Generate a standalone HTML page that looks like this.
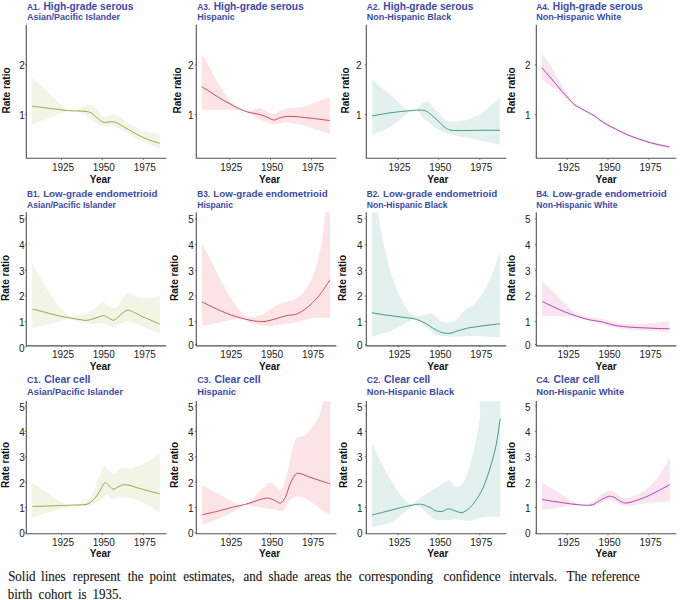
<!DOCTYPE html>
<html><head><meta charset="utf-8"><style>
html,body{margin:0;padding:0;background:#fff;}
body{width:680px;height:600px;overflow:hidden;position:relative;}
svg{position:absolute;left:0;top:0;}
.cap{position:absolute;left:8.7px;font-family:"Liberation Serif",serif;font-size:14px;line-height:16px;color:#111;white-space:nowrap;transform-origin:0 0;}
</style></head><body>
<svg width="680" height="600" viewBox="0 0 680 600">

<g>
<clipPath id="c00"><rect x="26.3" y="25.00" width="141" height="133.60"/></clipPath>
<path d="M32.00 77.75 C37.88 83.12 60.17 104.54 67.25 110.00 C74.33 115.46 72.12 110.88 74.50 110.50 C76.88 110.12 78.96 108.71 81.50 107.75 C84.04 106.79 87.50 104.88 89.75 104.75 C92.00 104.62 93.38 105.71 95.00 107.00 C96.62 108.29 97.79 110.79 99.50 112.50 C101.21 114.21 103.29 116.96 105.25 117.25 C107.21 117.54 109.79 114.75 111.25 114.25 C112.71 113.75 112.79 113.88 114.00 114.25 C115.21 114.62 116.50 115.29 118.50 116.50 C120.50 117.71 123.29 119.79 126.00 121.50 C128.71 123.21 131.83 125.12 134.75 126.75 C137.67 128.38 139.33 130.04 143.50 131.25 C147.67 132.46 157.04 133.54 159.75 134.00 L159.75 148.75 C158.04 148.04 152.96 145.96 149.50 144.50 C146.04 143.04 142.46 141.75 139.00 140.00 C135.54 138.25 131.92 135.83 128.75 134.00 C125.58 132.17 122.67 130.33 120.00 129.00 C117.33 127.67 115.46 126.38 112.75 126.00 C110.04 125.62 106.71 127.33 103.75 126.75 C100.79 126.17 97.54 124.04 95.00 122.50 C92.46 120.96 91.33 119.29 88.50 117.50 C85.67 115.71 81.54 112.79 78.00 111.75 C74.46 110.71 74.92 109.04 67.25 111.25 C59.58 113.46 37.88 122.71 32.00 125.00 Z" fill="#f2f4e6" stroke="none" clip-path="url(#c00)"/>
<path d="M32.00 106.25 C34.75 106.58 42.62 107.54 48.50 108.25 C54.38 108.96 62.21 110.04 67.25 110.50 C72.29 110.96 75.33 110.79 78.75 111.00 C82.17 111.21 85.54 111.33 87.75 111.75 C89.96 112.17 90.42 112.46 92.00 113.50 C93.58 114.54 95.42 116.54 97.25 118.00 C99.08 119.46 101.17 121.58 103.00 122.25 C104.83 122.92 106.42 122.04 108.25 122.00 C110.08 121.96 112.29 121.71 114.00 122.00 C115.71 122.29 116.04 122.46 118.50 123.75 C120.96 125.04 125.33 127.79 128.75 129.75 C132.17 131.71 135.54 133.79 139.00 135.50 C142.46 137.21 146.04 138.71 149.50 140.00 C152.96 141.29 158.04 142.71 159.75 143.25" fill="none" stroke="#a0a74b" stroke-width="1.0" stroke-linejoin="round"/>
<path d="M26.30 24.7 V158.3 H166.30" fill="none" stroke="#505050" stroke-width="1.1"/>
<path d="M24.80 64.90 H26.3" stroke="#505050" stroke-width="0.8"/>
<text x="24.80" y="69.30" text-anchor="end" font-family="Liberation Sans" font-size="10" fill="#222">2</text>
<path d="M24.80 114.70 H26.3" stroke="#505050" stroke-width="0.8"/>
<text x="24.80" y="119.10" text-anchor="end" font-family="Liberation Sans" font-size="10" fill="#222">1</text>
<path d="M61.50 158.3 V159.80" stroke="#505050" stroke-width="0.8"/>
<text x="63.00" y="171.40" text-anchor="middle" font-family="Liberation Sans" font-size="10" fill="#222">1925</text>
<path d="M102.30 158.3 V159.80" stroke="#505050" stroke-width="0.8"/>
<text x="103.80" y="171.40" text-anchor="middle" font-family="Liberation Sans" font-size="10" fill="#222">1950</text>
<path d="M143.30 158.3 V159.80" stroke="#505050" stroke-width="0.8"/>
<text x="144.80" y="171.40" text-anchor="middle" font-family="Liberation Sans" font-size="10" fill="#222">1975</text>
<text x="100.40" y="182.90" text-anchor="middle" font-family="Liberation Sans" font-size="10" font-weight="bold" fill="#111">Year</text>
<text transform="translate(9.80 90.50) rotate(-90)" text-anchor="middle" font-family="Liberation Sans" font-size="10" font-weight="bold" fill="#111">Rate ratio</text>
<text transform="translate(27.00 9.75) scale(0.9 1)" font-family="Liberation Sans" font-weight="bold" font-size="9.36" fill="#3c4aa8">A1.</text>
<text x="43.51" y="9.75" font-family="Liberation Sans" font-weight="bold" font-size="10.2" fill="#3c4aa8">High-grade serous</text>
<text x="27.00" y="20.05" font-family="Liberation Sans" font-weight="bold" font-size="9.0" fill="#3c4aa8">Asian/Pacific Islander</text>
</g>
<g>
<clipPath id="c01"><rect x="196.3" y="25.00" width="141" height="133.60"/></clipPath>
<path d="M201.75 53.50 C203.12 56.00 207.38 63.75 210.00 68.50 C212.62 73.25 215.00 77.75 217.50 82.00 C220.00 86.25 222.50 90.50 225.00 94.00 C227.50 97.50 230.00 100.54 232.50 103.00 C235.00 105.46 237.75 107.50 240.00 108.75 C242.25 110.00 244.00 110.29 246.00 110.50 C248.00 110.71 249.71 110.38 252.00 110.00 C254.29 109.62 257.50 108.12 259.75 108.25 C262.00 108.38 263.33 109.79 265.50 110.75 C267.67 111.71 270.58 113.83 272.75 114.00 C274.92 114.17 276.54 112.62 278.50 111.75 C280.46 110.88 281.96 109.42 284.50 108.75 C287.04 108.08 290.42 108.12 293.75 107.75 C297.08 107.38 301.17 107.29 304.50 106.50 C307.83 105.71 310.62 104.17 313.75 103.00 C316.88 101.83 320.58 100.50 323.25 99.50 C325.92 98.50 328.67 97.42 329.75 97.00 L329.75 134.00 C328.67 133.62 325.92 132.62 323.25 131.75 C320.58 130.88 316.88 129.83 313.75 128.75 C310.62 127.67 307.83 126.12 304.50 125.25 C301.17 124.38 297.08 124.00 293.75 123.50 C290.42 123.00 287.83 122.08 284.50 122.25 C281.17 122.42 276.92 124.58 273.75 124.50 C270.58 124.42 268.12 122.71 265.50 121.75 C262.88 120.79 260.25 119.88 258.00 118.75 C255.75 117.62 254.00 116.25 252.00 115.00 C250.00 113.75 248.25 112.12 246.00 111.25 C243.75 110.38 245.88 110.00 238.50 109.75 C231.12 109.50 207.88 109.75 201.75 109.75 Z" fill="#fce3e5" stroke="none" clip-path="url(#c01)"/>
<path d="M201.75 86.75 C203.12 87.58 207.38 90.08 210.00 91.75 C212.62 93.42 215.00 95.17 217.50 96.75 C220.00 98.33 222.50 99.83 225.00 101.25 C227.50 102.67 230.00 103.96 232.50 105.25 C235.00 106.54 237.50 107.88 240.00 109.00 C242.50 110.12 245.00 111.25 247.50 112.00 C250.00 112.75 252.58 112.96 255.00 113.50 C257.42 114.04 260.04 114.67 262.00 115.25 C263.96 115.83 264.79 116.21 266.75 117.00 C268.71 117.79 271.79 119.79 273.75 120.00 C275.71 120.21 276.54 118.83 278.50 118.25 C280.46 117.67 282.75 116.79 285.50 116.50 C288.25 116.21 291.83 116.33 295.00 116.50 C298.17 116.67 301.38 117.17 304.50 117.50 C307.62 117.83 310.62 118.12 313.75 118.50 C316.88 118.88 320.58 119.42 323.25 119.75 C325.92 120.08 328.67 120.38 329.75 120.50" fill="none" stroke="#c74e60" stroke-width="1.0" stroke-linejoin="round"/>
<path d="M196.30 24.7 V158.3 H336.30" fill="none" stroke="#505050" stroke-width="1.1"/>
<path d="M194.80 64.90 H196.3" stroke="#505050" stroke-width="0.8"/>
<text x="193.60" y="69.30" text-anchor="end" font-family="Liberation Sans" font-size="10" fill="#222">2</text>
<path d="M194.80 114.70 H196.3" stroke="#505050" stroke-width="0.8"/>
<text x="193.60" y="119.10" text-anchor="end" font-family="Liberation Sans" font-size="10" fill="#222">1</text>
<path d="M229.75 158.3 V159.80" stroke="#505050" stroke-width="0.8"/>
<text x="231.25" y="171.40" text-anchor="middle" font-family="Liberation Sans" font-size="10" fill="#222">1925</text>
<path d="M270.55 158.3 V159.80" stroke="#505050" stroke-width="0.8"/>
<text x="272.05" y="171.40" text-anchor="middle" font-family="Liberation Sans" font-size="10" fill="#222">1950</text>
<path d="M311.55 158.3 V159.80" stroke="#505050" stroke-width="0.8"/>
<text x="313.05" y="171.40" text-anchor="middle" font-family="Liberation Sans" font-size="10" fill="#222">1975</text>
<text x="269.65" y="182.90" text-anchor="middle" font-family="Liberation Sans" font-size="10" font-weight="bold" fill="#111">Year</text>
<text transform="translate(181.30 90.50) rotate(-90)" text-anchor="middle" font-family="Liberation Sans" font-size="10" font-weight="bold" fill="#111">Rate ratio</text>
<text transform="translate(197.20 9.75) scale(0.9 1)" font-family="Liberation Sans" font-weight="bold" font-size="9.36" fill="#3c4aa8">A3.</text>
<text x="213.71" y="9.75" font-family="Liberation Sans" font-weight="bold" font-size="10.2" fill="#3c4aa8">High-grade serous</text>
<text x="197.20" y="20.05" font-family="Liberation Sans" font-weight="bold" font-size="9.0" fill="#3c4aa8">Hispanic</text>
</g>
<g>
<clipPath id="c02"><rect x="366.3" y="25.00" width="141" height="133.60"/></clipPath>
<path d="M372.25 79.50 C374.00 81.04 379.04 85.62 382.75 88.75 C386.46 91.88 391.00 95.08 394.50 98.25 C398.00 101.42 401.21 105.79 403.75 107.75 C406.29 109.71 407.58 109.83 409.75 110.00 C411.92 110.17 414.00 110.21 416.75 108.75 C419.50 107.29 423.50 101.46 426.25 101.25 C429.00 101.04 431.12 105.42 433.25 107.50 C435.38 109.58 437.04 111.67 439.00 113.75 C440.96 115.83 443.42 118.75 445.00 120.00 C446.58 121.25 445.96 121.04 448.50 121.25 C451.04 121.46 456.71 121.67 460.25 121.25 C463.79 120.83 466.79 119.75 469.75 118.75 C472.71 117.75 475.25 116.79 478.00 115.25 C480.75 113.71 483.71 111.46 486.25 109.50 C488.79 107.54 491.00 105.46 493.25 103.50 C495.50 101.54 498.67 98.71 499.75 97.75 L499.75 144.75 C498.67 144.46 495.92 143.58 493.25 143.00 C490.58 142.42 487.29 141.96 483.75 141.25 C480.21 140.54 475.92 139.54 472.00 138.75 C468.08 137.96 464.17 137.29 460.25 136.50 C456.33 135.71 451.42 134.71 448.50 134.00 C445.58 133.29 444.71 133.12 442.75 132.25 C440.79 131.38 438.71 130.12 436.75 128.75 C434.79 127.38 433.04 125.67 431.00 124.00 C428.96 122.33 426.88 121.00 424.50 118.75 C422.12 116.50 419.21 111.58 416.75 110.50 C414.29 109.42 411.92 111.25 409.75 112.25 C407.58 113.25 406.29 114.54 403.75 116.50 C401.21 118.46 398.00 121.67 394.50 124.00 C391.00 126.33 386.46 128.67 382.75 130.50 C379.04 132.33 374.00 134.25 372.25 135.00 Z" fill="#e2f0ee" stroke="none" clip-path="url(#c02)"/>
<path d="M372.25 116.00 C374.00 115.67 379.04 114.62 382.75 114.00 C386.46 113.38 390.58 112.75 394.50 112.25 C398.42 111.75 402.92 111.33 406.25 111.00 C409.58 110.67 411.75 110.38 414.50 110.25 C417.25 110.12 420.62 110.00 422.75 110.25 C424.88 110.50 425.50 110.71 427.25 111.75 C429.00 112.79 431.29 114.83 433.25 116.50 C435.21 118.17 437.04 119.92 439.00 121.75 C440.96 123.58 443.42 126.21 445.00 127.50 C446.58 128.79 446.92 129.00 448.50 129.50 C450.08 130.00 451.54 130.33 454.50 130.50 C457.46 130.67 462.33 130.54 466.25 130.50 C470.17 130.46 474.08 130.29 478.00 130.25 C481.92 130.21 486.12 130.25 489.75 130.25 C493.38 130.25 498.08 130.25 499.75 130.25" fill="none" stroke="#45998f" stroke-width="1.0" stroke-linejoin="round"/>
<path d="M366.30 24.7 V158.3 H506.30" fill="none" stroke="#505050" stroke-width="1.1"/>
<path d="M364.80 64.90 H366.3" stroke="#505050" stroke-width="0.8"/>
<text x="361.50" y="69.30" text-anchor="end" font-family="Liberation Sans" font-size="10" fill="#222">2</text>
<path d="M364.80 114.70 H366.3" stroke="#505050" stroke-width="0.8"/>
<text x="361.50" y="119.10" text-anchor="end" font-family="Liberation Sans" font-size="10" fill="#222">1</text>
<path d="M398.00 158.3 V159.80" stroke="#505050" stroke-width="0.8"/>
<text x="399.50" y="171.40" text-anchor="middle" font-family="Liberation Sans" font-size="10" fill="#222">1925</text>
<path d="M438.80 158.3 V159.80" stroke="#505050" stroke-width="0.8"/>
<text x="440.30" y="171.40" text-anchor="middle" font-family="Liberation Sans" font-size="10" fill="#222">1950</text>
<path d="M479.80 158.3 V159.80" stroke="#505050" stroke-width="0.8"/>
<text x="481.30" y="171.40" text-anchor="middle" font-family="Liberation Sans" font-size="10" fill="#222">1975</text>
<text x="437.90" y="182.90" text-anchor="middle" font-family="Liberation Sans" font-size="10" font-weight="bold" fill="#111">Year</text>
<text transform="translate(348.60 90.50) rotate(-90)" text-anchor="middle" font-family="Liberation Sans" font-size="10" font-weight="bold" fill="#111">Rate ratio</text>
<text transform="translate(366.80 9.75) scale(0.9 1)" font-family="Liberation Sans" font-weight="bold" font-size="9.36" fill="#3c4aa8">A2.</text>
<text x="383.31" y="9.75" font-family="Liberation Sans" font-weight="bold" font-size="10.2" fill="#3c4aa8">High-grade serous</text>
<text x="366.80" y="20.05" font-family="Liberation Sans" font-weight="bold" font-size="9.0" fill="#3c4aa8">Non-Hispanic Black</text>
</g>
<g>
<clipPath id="c03"><rect x="536.3" y="25.00" width="141" height="133.60"/></clipPath>
<path d="M542.00 53.75 C542.62 54.62 544.25 56.92 545.75 59.00 C547.25 61.08 549.25 63.46 551.00 66.25 C552.75 69.04 554.46 72.62 556.25 75.75 C558.04 78.88 559.75 81.79 561.75 85.00 C563.75 88.21 566.04 91.88 568.25 95.00 C570.46 98.12 572.75 101.64 575.00 103.75 C577.25 105.86 579.54 106.39 581.75 107.67 C583.96 108.94 586.04 110.18 588.25 111.42 C590.46 112.65 593.04 113.83 595.00 115.08 C596.96 116.33 598.00 117.54 600.00 118.92 C602.00 120.29 604.46 121.89 607.00 123.33 C609.54 124.78 612.50 126.18 615.25 127.58 C618.00 128.99 620.75 130.47 623.50 131.75 C626.25 133.03 628.79 134.11 631.75 135.25 C634.71 136.39 638.12 137.54 641.25 138.58 C644.38 139.62 647.38 140.62 650.50 141.50 C653.62 142.38 656.83 143.12 660.00 143.83 C663.17 144.54 667.92 145.43 669.50 145.75 L669.50 148.25 C667.92 147.93 663.17 147.04 660.00 146.33 C656.83 145.62 653.62 144.88 650.50 144.00 C647.38 143.12 644.38 142.12 641.25 141.08 C638.12 140.04 634.71 138.89 631.75 137.75 C628.79 136.61 626.25 135.53 623.50 134.25 C620.75 132.97 618.00 131.49 615.25 130.08 C612.50 128.68 609.54 127.28 607.00 125.83 C604.46 124.39 602.00 122.82 600.00 121.42 C598.00 120.01 596.96 118.72 595.00 117.42 C593.04 116.11 590.46 114.85 588.25 113.58 C586.04 112.32 583.96 111.06 581.75 109.83 C579.54 108.61 577.25 107.85 575.00 106.25 C572.75 104.65 570.46 102.12 568.25 100.25 C566.04 98.38 563.75 96.75 561.75 95.00 C559.75 93.25 558.04 91.21 556.25 89.75 C554.46 88.29 552.75 87.50 551.00 86.25 C549.25 85.00 547.25 83.33 545.75 82.25 C544.25 81.17 542.62 80.17 542.00 79.75 Z" fill="#fae4f2" stroke="none" clip-path="url(#c03)"/>
<path d="M542.00 67.75 C543.04 68.96 546.08 72.46 548.25 75.00 C550.42 77.54 552.75 80.33 555.00 83.00 C557.25 85.67 559.54 88.46 561.75 91.00 C563.96 93.54 566.04 95.92 568.25 98.25 C570.46 100.58 572.75 103.25 575.00 105.00 C577.25 106.75 579.54 107.50 581.75 108.75 C583.96 110.00 586.04 111.25 588.25 112.50 C590.46 113.75 593.04 114.97 595.00 116.25 C596.96 117.53 598.00 118.78 600.00 120.17 C602.00 121.56 604.46 123.14 607.00 124.58 C609.54 126.03 612.50 127.43 615.25 128.83 C618.00 130.24 620.75 131.72 623.50 133.00 C626.25 134.28 628.79 135.36 631.75 136.50 C634.71 137.64 638.12 138.79 641.25 139.83 C644.38 140.87 647.38 141.88 650.50 142.75 C653.62 143.62 656.83 144.37 660.00 145.08 C663.17 145.79 667.92 146.68 669.50 147.00" fill="none" stroke="#b248ae" stroke-width="1.0" stroke-linejoin="round"/>
<path d="M536.30 24.7 V158.3 H676.30" fill="none" stroke="#505050" stroke-width="1.1"/>
<path d="M534.80 64.90 H536.3" stroke="#505050" stroke-width="0.8"/>
<text x="530.50" y="69.30" text-anchor="end" font-family="Liberation Sans" font-size="10" fill="#222">2</text>
<path d="M534.80 114.70 H536.3" stroke="#505050" stroke-width="0.8"/>
<text x="530.50" y="119.10" text-anchor="end" font-family="Liberation Sans" font-size="10" fill="#222">1</text>
<path d="M567.20 158.3 V159.80" stroke="#505050" stroke-width="0.8"/>
<text x="568.70" y="171.40" text-anchor="middle" font-family="Liberation Sans" font-size="10" fill="#222">1925</text>
<path d="M608.00 158.3 V159.80" stroke="#505050" stroke-width="0.8"/>
<text x="609.50" y="171.40" text-anchor="middle" font-family="Liberation Sans" font-size="10" fill="#222">1950</text>
<path d="M649.00 158.3 V159.80" stroke="#505050" stroke-width="0.8"/>
<text x="650.50" y="171.40" text-anchor="middle" font-family="Liberation Sans" font-size="10" fill="#222">1975</text>
<text x="606.15" y="182.90" text-anchor="middle" font-family="Liberation Sans" font-size="10" font-weight="bold" fill="#111">Year</text>
<text transform="translate(514.80 90.50) rotate(-90)" text-anchor="middle" font-family="Liberation Sans" font-size="10" font-weight="bold" fill="#111">Rate ratio</text>
<text transform="translate(536.30 9.75) scale(0.9 1)" font-family="Liberation Sans" font-weight="bold" font-size="9.36" fill="#3c4aa8">A4.</text>
<text x="552.81" y="9.75" font-family="Liberation Sans" font-weight="bold" font-size="10.2" fill="#3c4aa8">High-grade serous</text>
<text x="536.30" y="20.05" font-family="Liberation Sans" font-weight="bold" font-size="9.0" fill="#3c4aa8">Non-Hispanic White</text>
</g>
<g>
<clipPath id="c10"><rect x="26.3" y="212.60" width="141" height="133.60"/></clipPath>
<path d="M32.25 262.25 C33.25 264.17 36.12 269.83 38.25 273.75 C40.38 277.67 42.75 282.00 45.00 285.75 C47.25 289.50 49.54 292.92 51.75 296.25 C53.96 299.58 56.04 303.08 58.25 305.75 C60.46 308.42 62.75 310.50 65.00 312.25 C67.25 314.00 69.54 315.79 71.75 316.25 C73.96 316.71 76.04 315.42 78.25 315.00 C80.46 314.58 82.75 314.50 85.00 313.75 C87.25 313.00 89.75 311.62 91.75 310.50 C93.75 309.38 95.12 308.38 97.00 307.00 C98.88 305.62 101.12 302.38 103.00 302.25 C104.88 302.12 106.46 305.25 108.25 306.25 C110.04 307.25 111.96 308.58 113.75 308.25 C115.54 307.92 116.79 306.79 119.00 304.25 C121.21 301.71 124.79 294.54 127.00 293.00 C129.21 291.46 130.04 294.12 132.25 295.00 C134.46 295.88 137.12 297.79 140.25 298.25 C143.38 298.71 147.75 298.17 151.00 297.75 C154.25 297.33 158.29 296.08 159.75 295.75 L159.75 333.75 C158.29 333.08 153.79 331.00 151.00 329.75 C148.21 328.50 145.67 327.38 143.00 326.25 C140.33 325.12 137.67 323.75 135.00 323.00 C132.33 322.25 129.67 321.54 127.00 321.75 C124.33 321.96 121.21 323.38 119.00 324.25 C116.79 325.12 115.54 326.88 113.75 327.00 C111.96 327.12 110.04 325.67 108.25 325.00 C106.46 324.33 105.08 323.17 103.00 323.00 C100.92 322.83 98.29 324.00 95.75 324.00 C93.21 324.00 90.21 323.38 87.75 323.00 C85.29 322.62 83.00 322.21 81.00 321.75 C79.00 321.29 77.75 320.71 75.75 320.25 C73.75 319.79 71.92 318.75 69.00 319.00 C66.08 319.25 62.25 320.75 58.25 321.75 C54.25 322.75 49.33 323.92 45.00 325.00 C40.67 326.08 34.38 327.71 32.25 328.25 Z" fill="#f2f4e6" stroke="none" clip-path="url(#c10)"/>
<path d="M32.25 309.00 C34.38 309.54 40.67 311.12 45.00 312.25 C49.33 313.38 53.79 314.75 58.25 315.75 C62.71 316.75 67.75 317.54 71.75 318.25 C75.75 318.96 79.58 319.67 82.25 320.00 C84.92 320.33 85.62 320.54 87.75 320.25 C89.88 319.96 92.46 319.00 95.00 318.25 C97.54 317.50 100.79 315.83 103.00 315.75 C105.21 315.67 106.46 317.00 108.25 317.75 C110.04 318.50 111.96 320.50 113.75 320.25 C115.54 320.00 116.79 317.92 119.00 316.25 C121.21 314.58 124.54 310.92 127.00 310.25 C129.46 309.58 131.29 311.25 133.75 312.25 C136.21 313.25 138.88 314.92 141.75 316.25 C144.62 317.58 148.00 318.92 151.00 320.25 C154.00 321.58 158.29 323.58 159.75 324.25" fill="none" stroke="#a0a74b" stroke-width="1.0" stroke-linejoin="round"/>
<path d="M26.30 212.3 V345.9 H166.30" fill="none" stroke="#505050" stroke-width="1.1"/>
<path d="M24.80 218.90 H26.3" stroke="#505050" stroke-width="0.8"/>
<text x="24.60" y="223.30" text-anchor="end" font-family="Liberation Sans" font-size="10" fill="#222">5</text>
<path d="M24.80 244.70 H26.3" stroke="#505050" stroke-width="0.8"/>
<text x="24.60" y="249.10" text-anchor="end" font-family="Liberation Sans" font-size="10" fill="#222">4</text>
<path d="M24.80 270.40 H26.3" stroke="#505050" stroke-width="0.8"/>
<text x="24.60" y="274.80" text-anchor="end" font-family="Liberation Sans" font-size="10" fill="#222">3</text>
<path d="M24.80 296.00 H26.3" stroke="#505050" stroke-width="0.8"/>
<text x="24.60" y="300.40" text-anchor="end" font-family="Liberation Sans" font-size="10" fill="#222">2</text>
<path d="M24.80 321.70 H26.3" stroke="#505050" stroke-width="0.8"/>
<text x="24.60" y="326.10" text-anchor="end" font-family="Liberation Sans" font-size="10" fill="#222">1</text>
<path d="M24.80 347.10 H26.3" stroke="#505050" stroke-width="0.8"/>
<text x="24.60" y="351.50" text-anchor="end" font-family="Liberation Sans" font-size="10" fill="#222">0</text>
<path d="M61.50 345.9 V347.40" stroke="#505050" stroke-width="0.8"/>
<text x="63.00" y="358.00" text-anchor="middle" font-family="Liberation Sans" font-size="10" fill="#222">1925</text>
<path d="M102.30 345.9 V347.40" stroke="#505050" stroke-width="0.8"/>
<text x="103.80" y="358.00" text-anchor="middle" font-family="Liberation Sans" font-size="10" fill="#222">1950</text>
<path d="M143.30 345.9 V347.40" stroke="#505050" stroke-width="0.8"/>
<text x="144.80" y="358.00" text-anchor="middle" font-family="Liberation Sans" font-size="10" fill="#222">1975</text>
<text x="100.40" y="369.60" text-anchor="middle" font-family="Liberation Sans" font-size="10" font-weight="bold" fill="#111">Year</text>
<text transform="translate(9.00 277.90) rotate(-90)" text-anchor="middle" font-family="Liberation Sans" font-size="10" font-weight="bold" fill="#111">Rate ratio</text>
<text transform="translate(27.00 197.45) scale(0.9 1)" font-family="Liberation Sans" font-weight="bold" font-size="9.15" fill="#3c4aa8">B1.</text>
<text x="43.14" y="197.45" font-family="Liberation Sans" font-weight="bold" font-size="9.8" fill="#3c4aa8">Low-grade endometrioid</text>
<text x="27.00" y="207.55" font-family="Liberation Sans" font-weight="bold" font-size="8.6" fill="#3c4aa8">Asian/Pacific Islander</text>
</g>
<g>
<clipPath id="c11"><rect x="196.3" y="212.60" width="141" height="133.60"/></clipPath>
<path d="M202.00 244.00 C203.33 246.50 207.12 253.42 210.00 259.00 C212.88 264.58 215.62 270.79 219.25 277.50 C222.88 284.21 228.29 293.71 231.75 299.25 C235.21 304.79 237.96 308.21 240.00 310.75 C242.04 313.29 242.33 313.38 244.00 314.50 C245.67 315.62 247.62 317.29 250.00 317.50 C252.38 317.71 255.75 316.46 258.25 315.75 C260.75 315.04 262.42 314.75 265.00 313.25 C267.58 311.75 270.12 308.71 273.75 306.75 C277.38 304.79 283.17 302.75 286.75 301.50 C290.33 300.25 292.38 300.88 295.25 299.25 C298.12 297.62 301.08 295.54 304.00 291.75 C306.92 287.96 310.21 282.67 312.75 276.50 C315.29 270.33 317.46 262.33 319.25 254.75 C321.04 247.17 322.42 238.96 323.50 231.00 C324.58 223.04 324.67 211.00 325.75 207.00 C326.83 203.00 329.29 207.00 330.00 207.00 L330.00 317.75 C328.21 317.75 322.88 317.58 319.25 317.75 C315.62 317.92 311.88 318.04 308.25 318.75 C304.62 319.46 301.08 321.17 297.50 322.00 C293.92 322.83 290.38 323.21 286.75 323.75 C283.12 324.29 278.83 324.88 275.75 325.25 C272.67 325.62 271.17 326.04 268.25 326.00 C265.33 325.96 261.29 325.58 258.25 325.00 C255.21 324.42 252.75 323.62 250.00 322.50 C247.25 321.38 244.79 318.71 241.75 318.25 C238.71 317.79 235.08 319.12 231.75 319.75 C228.42 320.38 225.08 321.25 221.75 322.00 C218.42 322.75 215.04 323.62 211.75 324.25 C208.46 324.88 203.62 325.50 202.00 325.75 Z" fill="#fce3e5" stroke="none" clip-path="url(#c11)"/>
<path d="M202.00 301.75 C203.62 302.58 208.46 305.17 211.75 306.75 C215.04 308.33 218.42 309.83 221.75 311.25 C225.08 312.67 228.42 314.08 231.75 315.25 C235.08 316.42 238.71 317.42 241.75 318.25 C244.79 319.08 247.50 319.75 250.00 320.25 C252.50 320.75 254.25 321.04 256.75 321.25 C259.25 321.46 261.83 321.92 265.00 321.50 C268.17 321.08 272.12 319.75 275.75 318.75 C279.38 317.75 283.50 316.21 286.75 315.50 C290.00 314.79 292.38 315.42 295.25 314.50 C298.12 313.58 301.08 312.00 304.00 310.00 C306.92 308.00 309.88 305.38 312.75 302.50 C315.62 299.62 318.38 296.54 321.25 292.75 C324.12 288.96 328.54 281.92 330.00 279.75" fill="none" stroke="#c74e60" stroke-width="1.0" stroke-linejoin="round"/>
<path d="M196.30 212.3 V345.9 H336.30" fill="none" stroke="#505050" stroke-width="1.1"/>
<path d="M194.80 218.90 H196.3" stroke="#505050" stroke-width="0.8"/>
<text x="193.75" y="223.30" text-anchor="end" font-family="Liberation Sans" font-size="10" fill="#222">5</text>
<path d="M194.80 244.70 H196.3" stroke="#505050" stroke-width="0.8"/>
<text x="193.75" y="249.10" text-anchor="end" font-family="Liberation Sans" font-size="10" fill="#222">4</text>
<path d="M194.80 270.40 H196.3" stroke="#505050" stroke-width="0.8"/>
<text x="193.75" y="274.80" text-anchor="end" font-family="Liberation Sans" font-size="10" fill="#222">3</text>
<path d="M194.80 296.00 H196.3" stroke="#505050" stroke-width="0.8"/>
<text x="193.75" y="300.40" text-anchor="end" font-family="Liberation Sans" font-size="10" fill="#222">2</text>
<path d="M194.80 321.70 H196.3" stroke="#505050" stroke-width="0.8"/>
<text x="193.75" y="326.10" text-anchor="end" font-family="Liberation Sans" font-size="10" fill="#222">1</text>
<path d="M194.80 344.50 H196.3" stroke="#505050" stroke-width="0.8"/>
<text x="193.75" y="348.90" text-anchor="end" font-family="Liberation Sans" font-size="10" fill="#222">0</text>
<path d="M229.75 345.9 V347.40" stroke="#505050" stroke-width="0.8"/>
<text x="231.25" y="358.00" text-anchor="middle" font-family="Liberation Sans" font-size="10" fill="#222">1925</text>
<path d="M270.55 345.9 V347.40" stroke="#505050" stroke-width="0.8"/>
<text x="272.05" y="358.00" text-anchor="middle" font-family="Liberation Sans" font-size="10" fill="#222">1950</text>
<path d="M311.55 345.9 V347.40" stroke="#505050" stroke-width="0.8"/>
<text x="313.05" y="358.00" text-anchor="middle" font-family="Liberation Sans" font-size="10" fill="#222">1975</text>
<text x="269.65" y="369.60" text-anchor="middle" font-family="Liberation Sans" font-size="10" font-weight="bold" fill="#111">Year</text>
<text transform="translate(178.40 277.90) rotate(-90)" text-anchor="middle" font-family="Liberation Sans" font-size="10" font-weight="bold" fill="#111">Rate ratio</text>
<text transform="translate(197.20 197.45) scale(0.9 1)" font-family="Liberation Sans" font-weight="bold" font-size="9.15" fill="#3c4aa8">B3.</text>
<text x="213.34" y="197.45" font-family="Liberation Sans" font-weight="bold" font-size="9.8" fill="#3c4aa8">Low-grade endometrioid</text>
<text x="197.20" y="207.55" font-family="Liberation Sans" font-weight="bold" font-size="8.6" fill="#3c4aa8">Hispanic</text>
</g>
<g>
<clipPath id="c12"><rect x="366.3" y="212.60" width="141" height="133.60"/></clipPath>
<path d="M372.00 207.00 C372.79 207.00 375.21 202.67 376.75 207.00 C378.29 211.33 379.71 225.17 381.25 233.00 C382.79 240.83 384.42 247.38 386.00 254.00 C387.58 260.62 388.79 266.54 390.75 272.75 C392.71 278.96 395.42 285.83 397.75 291.25 C400.08 296.67 402.42 301.33 404.75 305.25 C407.08 309.17 409.04 313.00 411.75 314.75 C414.46 316.50 417.96 315.92 421.00 315.75 C424.04 315.58 427.67 313.75 430.00 313.75 C432.33 313.75 433.04 314.42 435.00 315.75 C436.96 317.08 439.25 320.62 441.75 321.75 C444.25 322.88 447.25 323.08 450.00 322.50 C452.75 321.92 455.75 320.33 458.25 318.25 C460.75 316.17 462.50 312.21 465.00 310.00 C467.50 307.79 470.46 307.50 473.25 305.00 C476.04 302.50 479.25 298.62 481.75 295.00 C484.25 291.38 486.04 287.96 488.25 283.25 C490.46 278.54 493.04 272.00 495.00 266.75 C496.96 261.50 499.17 254.25 500.00 251.75 L500.00 336.75 C498.62 336.75 495.92 336.92 491.75 336.75 C487.58 336.58 480.58 335.75 475.00 335.75 C469.42 335.75 463.79 336.75 458.25 336.75 C452.71 336.75 445.62 336.12 441.75 335.75 C437.88 335.38 437.67 335.96 435.00 334.50 C432.33 333.04 428.88 329.46 425.75 327.00 C422.62 324.54 419.38 320.46 416.25 319.75 C413.12 319.04 410.50 321.25 407.00 322.75 C403.50 324.25 399.12 327.00 395.25 328.75 C391.38 330.50 387.62 331.92 383.75 333.25 C379.88 334.58 373.96 336.17 372.00 336.75 Z" fill="#e2f0ee" stroke="none" clip-path="url(#c12)"/>
<path d="M372.00 312.75 C373.96 313.08 379.88 314.17 383.75 314.75 C387.62 315.33 391.38 315.75 395.25 316.25 C399.12 316.75 403.50 317.25 407.00 317.75 C410.50 318.25 413.12 318.29 416.25 319.25 C419.38 320.21 422.92 322.00 425.75 323.50 C428.58 325.00 430.58 326.75 433.25 328.25 C435.92 329.75 438.96 331.67 441.75 332.50 C444.54 333.33 447.25 333.54 450.00 333.25 C452.75 332.96 455.46 331.58 458.25 330.75 C461.04 329.92 463.96 328.88 466.75 328.25 C469.54 327.62 472.25 327.42 475.00 327.00 C477.75 326.58 480.46 326.12 483.25 325.75 C486.04 325.38 488.96 325.08 491.75 324.75 C494.54 324.42 498.62 323.92 500.00 323.75" fill="none" stroke="#45998f" stroke-width="1.0" stroke-linejoin="round"/>
<path d="M366.30 212.3 V345.9 H506.30" fill="none" stroke="#505050" stroke-width="1.1"/>
<path d="M364.80 218.90 H366.3" stroke="#505050" stroke-width="0.8"/>
<text x="362.60" y="223.30" text-anchor="end" font-family="Liberation Sans" font-size="10" fill="#222">5</text>
<path d="M364.80 244.70 H366.3" stroke="#505050" stroke-width="0.8"/>
<text x="362.60" y="249.10" text-anchor="end" font-family="Liberation Sans" font-size="10" fill="#222">4</text>
<path d="M364.80 270.40 H366.3" stroke="#505050" stroke-width="0.8"/>
<text x="362.60" y="274.80" text-anchor="end" font-family="Liberation Sans" font-size="10" fill="#222">3</text>
<path d="M364.80 296.00 H366.3" stroke="#505050" stroke-width="0.8"/>
<text x="362.60" y="300.40" text-anchor="end" font-family="Liberation Sans" font-size="10" fill="#222">2</text>
<path d="M364.80 321.70 H366.3" stroke="#505050" stroke-width="0.8"/>
<text x="362.60" y="326.10" text-anchor="end" font-family="Liberation Sans" font-size="10" fill="#222">1</text>
<path d="M364.80 344.50 H366.3" stroke="#505050" stroke-width="0.8"/>
<text x="362.60" y="348.90" text-anchor="end" font-family="Liberation Sans" font-size="10" fill="#222">0</text>
<path d="M398.00 345.9 V347.40" stroke="#505050" stroke-width="0.8"/>
<text x="399.50" y="358.00" text-anchor="middle" font-family="Liberation Sans" font-size="10" fill="#222">1925</text>
<path d="M438.80 345.9 V347.40" stroke="#505050" stroke-width="0.8"/>
<text x="440.30" y="358.00" text-anchor="middle" font-family="Liberation Sans" font-size="10" fill="#222">1950</text>
<path d="M479.80 345.9 V347.40" stroke="#505050" stroke-width="0.8"/>
<text x="481.30" y="358.00" text-anchor="middle" font-family="Liberation Sans" font-size="10" fill="#222">1975</text>
<text x="437.90" y="369.60" text-anchor="middle" font-family="Liberation Sans" font-size="10" font-weight="bold" fill="#111">Year</text>
<text transform="translate(346.40 277.90) rotate(-90)" text-anchor="middle" font-family="Liberation Sans" font-size="10" font-weight="bold" fill="#111">Rate ratio</text>
<text transform="translate(366.80 197.45) scale(0.9 1)" font-family="Liberation Sans" font-weight="bold" font-size="9.15" fill="#3c4aa8">B2.</text>
<text x="382.94" y="197.45" font-family="Liberation Sans" font-weight="bold" font-size="9.8" fill="#3c4aa8">Low-grade endometrioid</text>
<text x="366.80" y="207.55" font-family="Liberation Sans" font-weight="bold" font-size="8.6" fill="#3c4aa8">Non-Hispanic Black</text>
</g>
<g>
<clipPath id="c13"><rect x="536.3" y="212.60" width="141" height="133.60"/></clipPath>
<path d="M542.25 280.50 C544.00 282.29 549.04 287.50 552.75 291.25 C556.46 295.00 560.58 299.29 564.50 303.00 C568.42 306.71 572.33 311.17 576.25 313.50 C580.17 315.83 584.04 316.17 588.00 317.00 C591.96 317.83 596.04 317.75 600.00 318.50 C603.96 319.25 607.83 320.67 611.75 321.50 C615.67 322.33 619.58 323.08 623.50 323.50 C627.42 323.92 631.33 324.00 635.25 324.00 C639.17 324.00 643.08 323.79 647.00 323.50 C650.92 323.21 655.00 322.62 658.75 322.25 C662.50 321.88 667.71 321.42 669.50 321.25 L669.50 332.25 C667.71 332.12 662.50 331.79 658.75 331.50 C655.00 331.21 650.92 330.75 647.00 330.50 C643.08 330.25 639.17 330.29 635.25 330.00 C631.33 329.71 627.42 329.25 623.50 328.75 C619.58 328.25 615.67 327.88 611.75 327.00 C607.83 326.12 603.96 324.58 600.00 323.50 C596.04 322.42 591.96 321.58 588.00 320.50 C584.04 319.42 580.17 317.67 576.25 317.00 C572.33 316.33 568.42 316.67 564.50 316.50 C560.58 316.33 556.46 316.08 552.75 316.00 C549.04 315.92 544.00 316.00 542.25 316.00 Z" fill="#fae4f2" stroke="none" clip-path="url(#c13)"/>
<path d="M542.25 301.50 C544.00 302.33 549.04 304.79 552.75 306.50 C556.46 308.21 560.58 310.17 564.50 311.75 C568.42 313.33 572.33 314.71 576.25 316.00 C580.17 317.29 584.04 318.58 588.00 319.50 C591.96 320.42 597.00 320.92 600.00 321.50 C603.00 322.08 603.67 322.38 606.00 323.00 C608.33 323.62 611.08 324.67 614.00 325.25 C616.92 325.83 619.96 326.12 623.50 326.50 C627.04 326.88 631.33 327.25 635.25 327.50 C639.17 327.75 643.08 327.83 647.00 328.00 C650.92 328.17 655.00 328.38 658.75 328.50 C662.50 328.62 667.71 328.71 669.50 328.75" fill="none" stroke="#b248ae" stroke-width="1.0" stroke-linejoin="round"/>
<path d="M536.30 212.3 V345.9 H676.30" fill="none" stroke="#505050" stroke-width="1.1"/>
<path d="M534.80 218.90 H536.3" stroke="#505050" stroke-width="0.8"/>
<text x="530.50" y="223.30" text-anchor="end" font-family="Liberation Sans" font-size="10" fill="#222">5</text>
<path d="M534.80 244.70 H536.3" stroke="#505050" stroke-width="0.8"/>
<text x="530.50" y="249.10" text-anchor="end" font-family="Liberation Sans" font-size="10" fill="#222">4</text>
<path d="M534.80 270.40 H536.3" stroke="#505050" stroke-width="0.8"/>
<text x="530.50" y="274.80" text-anchor="end" font-family="Liberation Sans" font-size="10" fill="#222">3</text>
<path d="M534.80 296.00 H536.3" stroke="#505050" stroke-width="0.8"/>
<text x="530.50" y="300.40" text-anchor="end" font-family="Liberation Sans" font-size="10" fill="#222">2</text>
<path d="M534.80 321.70 H536.3" stroke="#505050" stroke-width="0.8"/>
<text x="530.50" y="326.10" text-anchor="end" font-family="Liberation Sans" font-size="10" fill="#222">1</text>
<path d="M534.80 344.50 H536.3" stroke="#505050" stroke-width="0.8"/>
<text x="530.50" y="348.90" text-anchor="end" font-family="Liberation Sans" font-size="10" fill="#222">0</text>
<path d="M567.20 345.9 V347.40" stroke="#505050" stroke-width="0.8"/>
<text x="568.70" y="358.00" text-anchor="middle" font-family="Liberation Sans" font-size="10" fill="#222">1925</text>
<path d="M608.00 345.9 V347.40" stroke="#505050" stroke-width="0.8"/>
<text x="609.50" y="358.00" text-anchor="middle" font-family="Liberation Sans" font-size="10" fill="#222">1950</text>
<path d="M649.00 345.9 V347.40" stroke="#505050" stroke-width="0.8"/>
<text x="650.50" y="358.00" text-anchor="middle" font-family="Liberation Sans" font-size="10" fill="#222">1975</text>
<text x="606.15" y="369.60" text-anchor="middle" font-family="Liberation Sans" font-size="10" font-weight="bold" fill="#111">Year</text>
<text transform="translate(514.80 277.90) rotate(-90)" text-anchor="middle" font-family="Liberation Sans" font-size="10" font-weight="bold" fill="#111">Rate ratio</text>
<text transform="translate(536.30 197.45) scale(0.9 1)" font-family="Liberation Sans" font-weight="bold" font-size="9.15" fill="#3c4aa8">B4.</text>
<text x="552.44" y="197.45" font-family="Liberation Sans" font-weight="bold" font-size="9.8" fill="#3c4aa8">Low-grade endometrioid</text>
<text x="536.30" y="207.55" font-family="Liberation Sans" font-weight="bold" font-size="8.6" fill="#3c4aa8">Non-Hispanic White</text>
</g>
<g>
<clipPath id="c20"><rect x="26.3" y="401.20" width="141" height="132.80"/></clipPath>
<path d="M32.25 482.75 C33.54 483.62 37.46 486.25 40.00 488.00 C42.54 489.75 45.00 491.50 47.50 493.25 C50.00 495.00 52.25 496.75 55.00 498.50 C57.75 500.25 61.50 502.62 64.00 503.75 C66.50 504.88 67.75 505.12 70.00 505.25 C72.25 505.38 75.00 505.12 77.50 504.50 C80.00 503.88 82.75 502.75 85.00 501.50 C87.25 500.25 89.33 499.25 91.00 497.00 C92.67 494.75 93.58 491.46 95.00 488.00 C96.42 484.54 98.00 479.88 99.50 476.25 C101.00 472.62 102.50 467.29 104.00 466.25 C105.50 465.21 106.88 468.75 108.50 470.00 C110.12 471.25 112.00 473.75 113.75 473.75 C115.50 473.75 117.38 471.00 119.00 470.00 C120.62 469.00 121.50 468.00 123.50 467.75 C125.50 467.50 128.25 468.88 131.00 468.50 C133.75 468.12 137.00 466.75 140.00 465.50 C143.00 464.25 146.50 462.50 149.00 461.00 C151.50 459.50 153.21 457.88 155.00 456.50 C156.79 455.12 158.96 453.38 159.75 452.75 L159.75 512.75 C158.96 512.25 157.29 511.12 155.00 509.75 C152.71 508.38 149.00 506.12 146.00 504.50 C143.00 502.88 140.00 501.12 137.00 500.00 C134.00 498.88 131.00 498.25 128.00 497.75 C125.00 497.25 121.50 496.75 119.00 497.00 C116.50 497.25 115.00 499.62 113.00 499.25 C111.00 498.88 109.00 494.71 107.00 494.75 C105.00 494.79 102.67 498.29 101.00 499.50 C99.33 500.71 98.42 501.17 97.00 502.00 C95.58 502.83 94.50 503.92 92.50 504.50 C90.50 505.08 87.50 505.25 85.00 505.50 C82.50 505.75 80.00 505.79 77.50 506.00 C75.00 506.21 72.25 506.38 70.00 506.75 C67.75 507.12 66.50 507.62 64.00 508.25 C61.50 508.88 57.75 509.75 55.00 510.50 C52.25 511.25 50.00 512.00 47.50 512.75 C45.00 513.50 42.54 514.12 40.00 515.00 C37.46 515.88 33.54 517.50 32.25 518.00 Z" fill="#f2f4e6" stroke="none" clip-path="url(#c20)"/>
<path d="M32.25 506.50 C34.79 506.42 42.46 506.17 47.50 506.00 C52.54 505.83 58.00 505.67 62.50 505.50 C67.00 505.33 71.00 505.12 74.50 505.00 C78.00 504.88 81.25 504.96 83.50 504.75 C85.75 504.54 86.50 504.42 88.00 503.75 C89.50 503.08 91.00 502.12 92.50 500.75 C94.00 499.38 95.50 497.62 97.00 495.50 C98.50 493.38 100.21 490.12 101.50 488.00 C102.79 485.88 103.58 483.25 104.75 482.75 C105.92 482.25 107.12 483.92 108.50 485.00 C109.88 486.08 111.50 488.88 113.00 489.25 C114.50 489.62 115.75 488.00 117.50 487.25 C119.25 486.50 121.50 485.08 123.50 484.75 C125.50 484.42 127.25 484.75 129.50 485.25 C131.75 485.75 134.25 486.92 137.00 487.75 C139.75 488.58 143.25 489.50 146.00 490.25 C148.75 491.00 151.21 491.67 153.50 492.25 C155.79 492.83 158.71 493.50 159.75 493.75" fill="none" stroke="#a0a74b" stroke-width="1.0" stroke-linejoin="round"/>
<path d="M26.30 400.9 V533.7 H166.30" fill="none" stroke="#505050" stroke-width="1.1"/>
<path d="M24.80 406.10 H26.3" stroke="#505050" stroke-width="0.8"/>
<text x="24.80" y="410.50" text-anchor="end" font-family="Liberation Sans" font-size="10" fill="#222">5</text>
<path d="M24.80 431.40 H26.3" stroke="#505050" stroke-width="0.8"/>
<text x="24.80" y="435.80" text-anchor="end" font-family="Liberation Sans" font-size="10" fill="#222">4</text>
<path d="M24.80 456.80 H26.3" stroke="#505050" stroke-width="0.8"/>
<text x="24.80" y="461.20" text-anchor="end" font-family="Liberation Sans" font-size="10" fill="#222">3</text>
<path d="M24.80 482.20 H26.3" stroke="#505050" stroke-width="0.8"/>
<text x="24.80" y="486.60" text-anchor="end" font-family="Liberation Sans" font-size="10" fill="#222">2</text>
<path d="M24.80 507.50 H26.3" stroke="#505050" stroke-width="0.8"/>
<text x="24.80" y="511.90" text-anchor="end" font-family="Liberation Sans" font-size="10" fill="#222">1</text>
<path d="M24.80 532.90 H26.3" stroke="#505050" stroke-width="0.8"/>
<text x="24.80" y="537.30" text-anchor="end" font-family="Liberation Sans" font-size="10" fill="#222">0</text>
<path d="M61.50 533.7 V535.20" stroke="#505050" stroke-width="0.8"/>
<text x="63.00" y="546.00" text-anchor="middle" font-family="Liberation Sans" font-size="10" fill="#222">1925</text>
<path d="M102.30 533.7 V535.20" stroke="#505050" stroke-width="0.8"/>
<text x="103.80" y="546.00" text-anchor="middle" font-family="Liberation Sans" font-size="10" fill="#222">1950</text>
<path d="M143.30 533.7 V535.20" stroke="#505050" stroke-width="0.8"/>
<text x="144.80" y="546.00" text-anchor="middle" font-family="Liberation Sans" font-size="10" fill="#222">1975</text>
<text x="100.40" y="557.00" text-anchor="middle" font-family="Liberation Sans" font-size="10" font-weight="bold" fill="#111">Year</text>
<text transform="translate(9.00 464.90) rotate(-90)" text-anchor="middle" font-family="Liberation Sans" font-size="10" font-weight="bold" fill="#111">Rate ratio</text>
<text transform="translate(27.00 383.35) scale(0.9 1)" font-family="Liberation Sans" font-weight="bold" font-size="9.78" fill="#3c4aa8">C1.</text>
<text x="44.24" y="383.35" font-family="Liberation Sans" font-weight="bold" font-size="10.4" fill="#3c4aa8">Clear cell</text>
<text x="27.00" y="394.75" font-family="Liberation Sans" font-weight="bold" font-size="9.3" fill="#3c4aa8">Asian/Pacific Islander</text>
</g>
<g>
<clipPath id="c21"><rect x="196.3" y="401.20" width="141" height="132.80"/></clipPath>
<path d="M202.25 485.00 C204.04 486.00 209.21 488.88 213.00 491.00 C216.79 493.12 221.00 495.62 225.00 497.75 C229.00 499.88 233.75 502.58 237.00 503.75 C240.25 504.92 242.00 505.38 244.50 504.75 C247.00 504.12 249.25 502.42 252.00 500.00 C254.75 497.58 258.00 493.12 261.00 490.25 C264.00 487.38 267.46 483.25 270.00 482.75 C272.54 482.25 274.46 486.12 276.25 487.25 C278.04 488.38 279.25 490.62 280.75 489.50 C282.25 488.38 283.75 485.00 285.25 480.50 C286.75 476.00 288.25 468.88 289.75 462.50 C291.25 456.12 292.75 446.46 294.25 442.25 C295.75 438.04 296.88 438.38 298.75 437.25 C300.62 436.12 303.25 437.29 305.50 435.50 C307.75 433.71 310.00 429.67 312.25 426.50 C314.50 423.33 316.92 421.33 319.00 416.50 C321.08 411.67 322.88 401.08 324.75 397.50 C326.62 393.92 329.33 395.42 330.25 395.00 L330.25 514.25 C329.12 513.71 326.12 512.67 323.50 511.00 C320.88 509.33 317.50 506.33 314.50 504.25 C311.50 502.17 308.50 499.83 305.50 498.50 C302.50 497.17 299.12 495.88 296.50 496.25 C293.88 496.62 291.62 498.88 289.75 500.75 C287.88 502.62 286.75 505.71 285.25 507.50 C283.75 509.29 282.25 511.12 280.75 511.50 C279.25 511.88 278.04 510.17 276.25 509.75 C274.46 509.33 272.54 509.38 270.00 509.00 C267.46 508.62 264.00 508.00 261.00 507.50 C258.00 507.00 254.75 506.38 252.00 506.00 C249.25 505.62 247.00 504.62 244.50 505.25 C242.00 505.88 240.25 508.00 237.00 509.75 C233.75 511.50 229.00 513.88 225.00 515.75 C221.00 517.62 216.79 519.50 213.00 521.00 C209.21 522.50 204.04 524.12 202.25 524.75 Z" fill="#fce3e5" stroke="none" clip-path="url(#c21)"/>
<path d="M202.25 514.75 C204.79 514.17 212.46 512.50 217.50 511.25 C222.54 510.00 228.00 508.38 232.50 507.25 C237.00 506.12 240.75 505.50 244.50 504.50 C248.25 503.50 251.75 502.25 255.00 501.25 C258.25 500.25 261.75 499.00 264.00 498.50 C266.25 498.00 267.12 498.12 268.50 498.25 C269.88 498.38 270.96 498.75 272.25 499.25 C273.54 499.75 274.83 500.62 276.25 501.25 C277.67 501.88 279.25 503.62 280.75 503.00 C282.25 502.38 283.75 500.50 285.25 497.50 C286.75 494.50 288.25 488.58 289.75 485.00 C291.25 481.42 292.75 477.96 294.25 476.00 C295.75 474.04 296.12 473.04 298.75 473.25 C301.38 473.46 306.25 475.96 310.00 477.25 C313.75 478.54 317.88 479.88 321.25 481.00 C324.62 482.12 328.75 483.50 330.25 484.00" fill="none" stroke="#c74e60" stroke-width="1.0" stroke-linejoin="round"/>
<path d="M196.30 400.9 V533.7 H336.30" fill="none" stroke="#505050" stroke-width="1.1"/>
<path d="M194.80 406.10 H196.3" stroke="#505050" stroke-width="0.8"/>
<text x="193.60" y="410.50" text-anchor="end" font-family="Liberation Sans" font-size="10" fill="#222">5</text>
<path d="M194.80 431.40 H196.3" stroke="#505050" stroke-width="0.8"/>
<text x="193.60" y="435.80" text-anchor="end" font-family="Liberation Sans" font-size="10" fill="#222">4</text>
<path d="M194.80 456.80 H196.3" stroke="#505050" stroke-width="0.8"/>
<text x="193.60" y="461.20" text-anchor="end" font-family="Liberation Sans" font-size="10" fill="#222">3</text>
<path d="M194.80 482.20 H196.3" stroke="#505050" stroke-width="0.8"/>
<text x="193.60" y="486.60" text-anchor="end" font-family="Liberation Sans" font-size="10" fill="#222">2</text>
<path d="M194.80 507.50 H196.3" stroke="#505050" stroke-width="0.8"/>
<text x="193.60" y="511.90" text-anchor="end" font-family="Liberation Sans" font-size="10" fill="#222">1</text>
<path d="M194.80 532.90 H196.3" stroke="#505050" stroke-width="0.8"/>
<text x="193.60" y="537.30" text-anchor="end" font-family="Liberation Sans" font-size="10" fill="#222">0</text>
<path d="M229.75 533.7 V535.20" stroke="#505050" stroke-width="0.8"/>
<text x="231.25" y="546.00" text-anchor="middle" font-family="Liberation Sans" font-size="10" fill="#222">1925</text>
<path d="M270.55 533.7 V535.20" stroke="#505050" stroke-width="0.8"/>
<text x="272.05" y="546.00" text-anchor="middle" font-family="Liberation Sans" font-size="10" fill="#222">1950</text>
<path d="M311.55 533.7 V535.20" stroke="#505050" stroke-width="0.8"/>
<text x="313.05" y="546.00" text-anchor="middle" font-family="Liberation Sans" font-size="10" fill="#222">1975</text>
<text x="269.65" y="557.00" text-anchor="middle" font-family="Liberation Sans" font-size="10" font-weight="bold" fill="#111">Year</text>
<text transform="translate(178.10 464.90) rotate(-90)" text-anchor="middle" font-family="Liberation Sans" font-size="10" font-weight="bold" fill="#111">Rate ratio</text>
<text transform="translate(197.20 383.35) scale(0.9 1)" font-family="Liberation Sans" font-weight="bold" font-size="9.78" fill="#3c4aa8">C3.</text>
<text x="214.44" y="383.35" font-family="Liberation Sans" font-weight="bold" font-size="10.4" fill="#3c4aa8">Clear cell</text>
<text x="197.20" y="394.75" font-family="Liberation Sans" font-weight="bold" font-size="9.3" fill="#3c4aa8">Hispanic</text>
</g>
<g>
<clipPath id="c22"><rect x="366.3" y="401.20" width="141" height="132.80"/></clipPath>
<path d="M372.00 443.25 C373.04 445.50 376.08 452.29 378.25 456.75 C380.42 461.21 382.75 465.83 385.00 470.00 C387.25 474.17 389.54 478.12 391.75 481.75 C393.96 485.38 396.04 488.71 398.25 491.75 C400.46 494.79 402.75 497.92 405.00 500.00 C407.25 502.08 409.25 504.54 411.75 504.25 C414.25 503.96 417.25 500.21 420.00 498.25 C422.75 496.29 425.46 494.29 428.25 492.50 C431.04 490.71 434.50 488.92 436.75 487.50 C439.00 486.08 439.79 485.17 441.75 484.00 C443.71 482.83 446.25 480.12 448.50 480.50 C450.75 480.88 453.00 485.67 455.25 486.25 C457.50 486.83 459.75 486.83 462.00 484.00 C464.25 481.17 466.50 476.21 468.75 469.25 C471.00 462.29 473.62 450.88 475.50 442.25 C477.38 433.62 479.04 425.38 480.00 417.50 C480.96 409.62 477.88 398.75 481.25 395.00 C484.62 391.25 497.08 395.00 500.25 395.00 L500.25 516.50 C498.75 516.50 494.62 516.29 491.25 516.50 C487.88 516.71 483.75 517.00 480.00 517.75 C476.25 518.50 472.50 520.75 468.75 521.00 C465.00 521.25 461.25 519.42 457.50 519.25 C453.75 519.08 450.00 520.00 446.25 520.00 C442.50 520.00 438.00 520.21 435.00 519.25 C432.00 518.29 430.46 516.08 428.25 514.25 C426.04 512.42 423.96 509.79 421.75 508.25 C419.54 506.71 416.96 505.12 415.00 505.00 C413.04 504.88 412.21 505.83 410.00 507.50 C407.79 509.17 404.79 512.62 401.75 515.00 C398.71 517.38 395.08 520.08 391.75 521.75 C388.42 523.42 385.04 524.17 381.75 525.00 C378.46 525.83 373.62 526.46 372.00 526.75 Z" fill="#e2f0ee" stroke="none" clip-path="url(#c22)"/>
<path d="M372.00 515.00 C374.17 514.46 380.62 512.88 385.00 511.75 C389.38 510.62 393.79 509.33 398.25 508.25 C402.71 507.17 408.42 505.92 411.75 505.25 C415.08 504.58 416.33 504.33 418.25 504.25 C420.17 504.17 421.00 504.08 423.25 504.75 C425.50 505.42 429.79 507.29 431.75 508.25 C433.71 509.21 433.33 509.96 435.00 510.50 C436.67 511.04 439.50 511.79 441.75 511.50 C444.00 511.21 446.25 508.83 448.50 508.75 C450.75 508.67 453.00 510.38 455.25 511.00 C457.50 511.62 459.75 512.88 462.00 512.50 C464.25 512.12 466.50 510.71 468.75 508.75 C471.00 506.79 473.25 503.96 475.50 500.75 C477.75 497.54 480.00 494.38 482.25 489.50 C484.50 484.62 486.75 478.62 489.00 471.50 C491.25 464.38 493.88 455.54 495.75 446.75 C497.62 437.96 499.50 423.42 500.25 418.75" fill="none" stroke="#45998f" stroke-width="1.0" stroke-linejoin="round"/>
<path d="M366.30 400.9 V533.7 H506.30" fill="none" stroke="#505050" stroke-width="1.1"/>
<path d="M364.80 406.10 H366.3" stroke="#505050" stroke-width="0.8"/>
<text x="362.60" y="410.50" text-anchor="end" font-family="Liberation Sans" font-size="10" fill="#222">5</text>
<path d="M364.80 431.40 H366.3" stroke="#505050" stroke-width="0.8"/>
<text x="362.60" y="435.80" text-anchor="end" font-family="Liberation Sans" font-size="10" fill="#222">4</text>
<path d="M364.80 456.80 H366.3" stroke="#505050" stroke-width="0.8"/>
<text x="362.60" y="461.20" text-anchor="end" font-family="Liberation Sans" font-size="10" fill="#222">3</text>
<path d="M364.80 482.20 H366.3" stroke="#505050" stroke-width="0.8"/>
<text x="362.60" y="486.60" text-anchor="end" font-family="Liberation Sans" font-size="10" fill="#222">2</text>
<path d="M364.80 507.50 H366.3" stroke="#505050" stroke-width="0.8"/>
<text x="362.60" y="511.90" text-anchor="end" font-family="Liberation Sans" font-size="10" fill="#222">1</text>
<path d="M364.80 532.90 H366.3" stroke="#505050" stroke-width="0.8"/>
<text x="362.60" y="537.30" text-anchor="end" font-family="Liberation Sans" font-size="10" fill="#222">0</text>
<path d="M398.00 533.7 V535.20" stroke="#505050" stroke-width="0.8"/>
<text x="399.50" y="546.00" text-anchor="middle" font-family="Liberation Sans" font-size="10" fill="#222">1925</text>
<path d="M438.80 533.7 V535.20" stroke="#505050" stroke-width="0.8"/>
<text x="440.30" y="546.00" text-anchor="middle" font-family="Liberation Sans" font-size="10" fill="#222">1950</text>
<path d="M479.80 533.7 V535.20" stroke="#505050" stroke-width="0.8"/>
<text x="481.30" y="546.00" text-anchor="middle" font-family="Liberation Sans" font-size="10" fill="#222">1975</text>
<text x="437.90" y="557.00" text-anchor="middle" font-family="Liberation Sans" font-size="10" font-weight="bold" fill="#111">Year</text>
<text transform="translate(346.70 464.90) rotate(-90)" text-anchor="middle" font-family="Liberation Sans" font-size="10" font-weight="bold" fill="#111">Rate ratio</text>
<text transform="translate(366.80 383.35) scale(0.9 1)" font-family="Liberation Sans" font-weight="bold" font-size="9.78" fill="#3c4aa8">C2.</text>
<text x="384.04" y="383.35" font-family="Liberation Sans" font-weight="bold" font-size="10.4" fill="#3c4aa8">Clear cell</text>
<text x="366.80" y="394.75" font-family="Liberation Sans" font-weight="bold" font-size="9.3" fill="#3c4aa8">Non-Hispanic Black</text>
</g>
<g>
<clipPath id="c23"><rect x="536.3" y="401.20" width="141" height="132.80"/></clipPath>
<path d="M542.25 483.00 C544.00 483.96 549.04 486.58 552.75 488.75 C556.46 490.92 560.58 493.62 564.50 496.00 C568.42 498.38 572.75 501.54 576.25 503.00 C579.75 504.46 582.75 504.96 585.50 504.75 C588.25 504.54 590.17 503.42 592.75 501.75 C595.33 500.08 598.38 496.62 601.00 494.75 C603.62 492.88 606.17 490.88 608.50 490.50 C610.83 490.12 612.75 491.29 615.00 492.50 C617.25 493.71 619.46 497.00 622.00 497.75 C624.54 498.50 627.29 497.71 630.25 497.00 C633.21 496.29 636.79 495.04 639.75 493.50 C642.71 491.96 645.25 490.08 648.00 487.75 C650.75 485.42 653.71 482.67 656.25 479.50 C658.79 476.33 661.00 472.38 663.25 468.75 C665.50 465.12 668.67 459.58 669.75 457.75 L669.75 501.75 C668.67 501.75 665.50 501.67 663.25 501.75 C661.00 501.83 658.79 502.04 656.25 502.25 C653.71 502.46 650.75 502.71 648.00 503.00 C645.25 503.29 642.71 503.50 639.75 504.00 C636.79 504.50 633.21 505.79 630.25 506.00 C627.29 506.21 624.54 505.96 622.00 505.25 C619.46 504.54 617.25 502.62 615.00 501.75 C612.75 500.88 610.83 499.79 608.50 500.00 C606.17 500.21 603.62 502.04 601.00 503.00 C598.38 503.96 595.33 505.25 592.75 505.75 C590.17 506.25 588.25 506.08 585.50 506.00 C582.75 505.92 579.75 505.17 576.25 505.25 C572.75 505.33 568.42 505.92 564.50 506.50 C560.58 507.08 556.46 508.17 552.75 508.75 C549.04 509.33 544.00 509.79 542.25 510.00 Z" fill="#fae4f2" stroke="none" clip-path="url(#c23)"/>
<path d="M542.25 499.50 C544.00 499.79 549.04 500.67 552.75 501.25 C556.46 501.83 560.58 502.46 564.50 503.00 C568.42 503.54 572.75 504.12 576.25 504.50 C579.75 504.88 582.75 505.21 585.50 505.25 C588.25 505.29 590.38 505.54 592.75 504.75 C595.12 503.96 597.21 501.88 599.75 500.50 C602.29 499.12 606.04 497.17 608.00 496.50 C609.96 495.83 610.33 496.29 611.50 496.50 C612.67 496.71 613.42 496.88 615.00 497.75 C616.58 498.62 619.04 500.88 621.00 501.75 C622.96 502.62 624.21 503.21 626.75 503.00 C629.29 502.79 632.71 501.67 636.25 500.50 C639.79 499.33 644.08 497.75 648.00 496.00 C651.92 494.25 656.12 491.88 659.75 490.00 C663.38 488.12 668.08 485.62 669.75 484.75" fill="none" stroke="#b248ae" stroke-width="1.0" stroke-linejoin="round"/>
<path d="M536.30 400.9 V533.7 H676.30" fill="none" stroke="#505050" stroke-width="1.1"/>
<path d="M534.80 406.10 H536.3" stroke="#505050" stroke-width="0.8"/>
<text x="530.50" y="410.50" text-anchor="end" font-family="Liberation Sans" font-size="10" fill="#222">5</text>
<path d="M534.80 431.40 H536.3" stroke="#505050" stroke-width="0.8"/>
<text x="530.50" y="435.80" text-anchor="end" font-family="Liberation Sans" font-size="10" fill="#222">4</text>
<path d="M534.80 456.80 H536.3" stroke="#505050" stroke-width="0.8"/>
<text x="530.50" y="461.20" text-anchor="end" font-family="Liberation Sans" font-size="10" fill="#222">3</text>
<path d="M534.80 482.20 H536.3" stroke="#505050" stroke-width="0.8"/>
<text x="530.50" y="486.60" text-anchor="end" font-family="Liberation Sans" font-size="10" fill="#222">2</text>
<path d="M534.80 507.50 H536.3" stroke="#505050" stroke-width="0.8"/>
<text x="530.50" y="511.90" text-anchor="end" font-family="Liberation Sans" font-size="10" fill="#222">1</text>
<path d="M534.80 532.90 H536.3" stroke="#505050" stroke-width="0.8"/>
<text x="530.50" y="537.30" text-anchor="end" font-family="Liberation Sans" font-size="10" fill="#222">0</text>
<path d="M567.20 533.7 V535.20" stroke="#505050" stroke-width="0.8"/>
<text x="568.70" y="546.00" text-anchor="middle" font-family="Liberation Sans" font-size="10" fill="#222">1925</text>
<path d="M608.00 533.7 V535.20" stroke="#505050" stroke-width="0.8"/>
<text x="609.50" y="546.00" text-anchor="middle" font-family="Liberation Sans" font-size="10" fill="#222">1950</text>
<path d="M649.00 533.7 V535.20" stroke="#505050" stroke-width="0.8"/>
<text x="650.50" y="546.00" text-anchor="middle" font-family="Liberation Sans" font-size="10" fill="#222">1975</text>
<text x="606.15" y="557.00" text-anchor="middle" font-family="Liberation Sans" font-size="10" font-weight="bold" fill="#111">Year</text>
<text transform="translate(514.80 464.90) rotate(-90)" text-anchor="middle" font-family="Liberation Sans" font-size="10" font-weight="bold" fill="#111">Rate ratio</text>
<text transform="translate(536.30 383.35) scale(0.9 1)" font-family="Liberation Sans" font-weight="bold" font-size="9.78" fill="#3c4aa8">C4.</text>
<text x="553.54" y="383.35" font-family="Liberation Sans" font-weight="bold" font-size="10.4" fill="#3c4aa8">Clear cell</text>
<text x="536.30" y="394.75" font-family="Liberation Sans" font-weight="bold" font-size="9.3" fill="#3c4aa8">Non-Hispanic White</text>
</g>
</svg>
<svg width="680" height="600" viewBox="0 0 680 600" style="position:absolute;left:0;top:0">
<text transform="translate(8.13 580.6) scale(0.93 1)" font-family="Liberation Serif" font-size="14" fill="#151515" stroke="#151515" stroke-width="0.12">Solid</text>
<text transform="translate(41.06 580.6) scale(0.93 1)" font-family="Liberation Serif" font-size="14" fill="#151515" stroke="#151515" stroke-width="0.12">lines</text>
<text transform="translate(72.84 580.6) scale(0.93 1)" font-family="Liberation Serif" font-size="14" fill="#151515" stroke="#151515" stroke-width="0.12">represent</text>
<text transform="translate(127.75 580.6) scale(0.93 1)" font-family="Liberation Serif" font-size="14" fill="#151515" stroke="#151515" stroke-width="0.12">the</text>
<text transform="translate(149.39 580.6) scale(0.93 1)" font-family="Liberation Serif" font-size="14" fill="#151515" stroke="#151515" stroke-width="0.12">point</text>
<text transform="translate(183.13 580.6) scale(0.93 1)" font-family="Liberation Serif" font-size="14" fill="#151515" stroke="#151515" stroke-width="0.12">estimates,</text>
<text transform="translate(243.40 580.6) scale(0.93 1)" font-family="Liberation Serif" font-size="14" fill="#151515" stroke="#151515" stroke-width="0.12">and</text>
<text transform="translate(268.38 580.6) scale(0.93 1)" font-family="Liberation Serif" font-size="14" fill="#151515" stroke="#151515" stroke-width="0.12">shade</text>
<text transform="translate(304.34 580.6) scale(0.93 1)" font-family="Liberation Serif" font-size="14" fill="#151515" stroke="#151515" stroke-width="0.12">areas</text>
<text transform="translate(335.90 580.6) scale(0.93 1)" font-family="Liberation Serif" font-size="14" fill="#151515" stroke="#151515" stroke-width="0.12">the</text>
<text transform="translate(358.68 580.6) scale(0.93 1)" font-family="Liberation Serif" font-size="14" fill="#151515" stroke="#151515" stroke-width="0.12">corresponding</text>
<text transform="translate(443.40 580.6) scale(0.93 1)" font-family="Liberation Serif" font-size="14" fill="#151515" stroke="#151515" stroke-width="0.12">confidence</text>
<text transform="translate(509.01 580.6) scale(0.93 1)" font-family="Liberation Serif" font-size="14" fill="#151515" stroke="#151515" stroke-width="0.12">intervals.</text>
<text transform="translate(566.55 580.6) scale(0.93 1)" font-family="Liberation Serif" font-size="14" fill="#151515" stroke="#151515" stroke-width="0.12">The</text>
<text transform="translate(591.52 580.6) scale(0.93 1)" font-family="Liberation Serif" font-size="14" fill="#151515" stroke="#151515" stroke-width="0.12">reference</text>
<text transform="translate(7.70 599.2) scale(0.93 1)" font-family="Liberation Serif" font-size="14" fill="#151515" stroke="#151515" stroke-width="0.12">birth</text>
<text transform="translate(38.62 599.2) scale(0.93 1)" font-family="Liberation Serif" font-size="14" fill="#151515" stroke="#151515" stroke-width="0.12">cohort</text>
<text transform="translate(77.89 599.2) scale(0.93 1)" font-family="Liberation Serif" font-size="14" fill="#151515" stroke="#151515" stroke-width="0.12">is</text>
<text transform="translate(92.62 599.2) scale(0.93 1)" font-family="Liberation Serif" font-size="14" fill="#151515" stroke="#151515" stroke-width="0.12">1935.</text>
</svg>
</body></html>
